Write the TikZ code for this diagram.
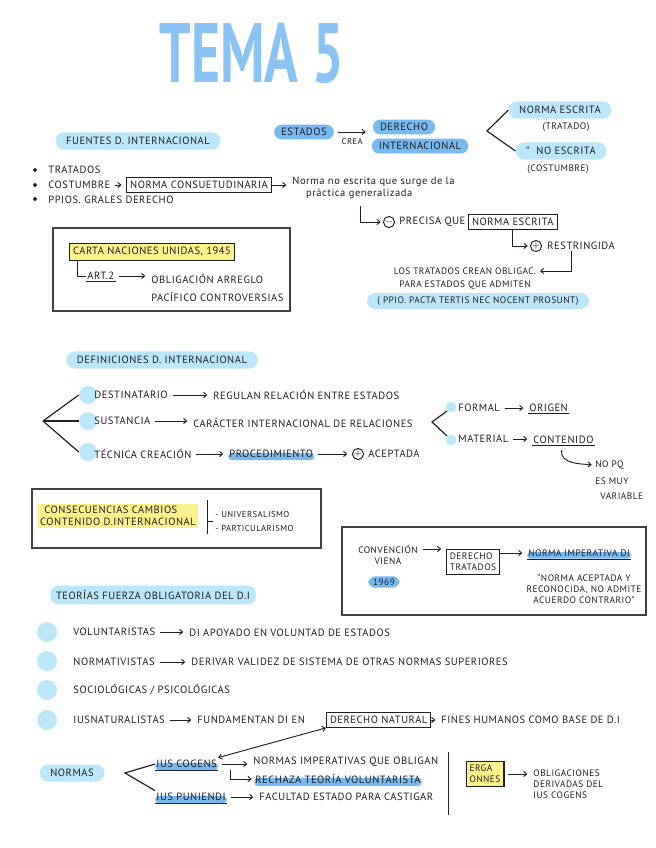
\documentclass[tikz,border=0pt]{standalone}
\usepackage{fontspec}
\usetikzlibrary{arrows.meta,positioning,fit,calc}
\newfontfamily\handfont[LetterSpace=5]{PT Sans}
\newfontfamily\titlehand{PT Sans}
\definecolor{cSky}{RGB}{186,232,250}
\definecolor{cMid}{RGB}{118,186,240}
\definecolor{cYel}{RGB}{252,242,140}
\definecolor{cTitle}{RGB}{138,196,245}
\definecolor{cInk}{RGB}{30,30,36}
\newcommand{\hbase}{\handfont\fontsize{9}{10.5}\selectfont}
\newcommand{\hsmall}{\handfont\fontsize{8}{9.5}\selectfont}
\newcommand{\htiny}{\handfont\fontsize{7.4}{8.6}\selectfont}
\tikzset{
  txt/.style={font=\hbase,text=cInk,inner sep=1pt},
  stxt/.style={txt,font=\hsmall},
  ttxt/.style={txt,font=\htiny},
  titlefont/.style={font=\titlehand\bfseries\fontsize{72}{72}\selectfont,
                    text=cTitle,xscale=0.66,transform shape,inner sep=0pt},
  skypill/.style={txt,fill=cSky,rounded corners=7pt,inner xsep=9pt,inner ysep=4pt},
  midpill/.style={txt,fill=cMid,rounded corners=6pt,inner xsep=6pt,inner ysep=3pt},
  boxed/.style={txt,draw=cInk,line width=0.9pt,inner xsep=3pt,inner ysep=3pt},
  yelbox/.style={boxed,fill=cYel},
  outline/.style={draw=cInk!85,line width=1pt,inner sep=0pt},
  inkline/.style={draw=cInk,line width=0.8pt},
  forkline/.style={draw=cInk,line width=1pt},
  uline/.style={append after command={(\tikzlastnode.south west)
                edge[inkline] (\tikzlastnode.south east)}},
  hlite/.style={inner ysep=2pt,path picture={\fill[cMid,rounded corners=3pt]
                ($(path picture bounding box.west)+(0,1pt)$) rectangle
                (path picture bounding box.south east);}},
  dotc/.style={circle,fill=cSky,inner sep=0pt,minimum size=#1},
  dotc/.default=5.4mm,
  bul/.style={circle,draw=cInk,fill=cInk,line width=0.6pt,inner sep=0pt,minimum size=2.6pt},
  circsym/.style={circle,draw=cInk,line width=0.8pt,inner sep=0pt,
                  minimum size=9.5pt,font=\small\bfseries,text=cInk},
  arr/.style={-{Straight Barb[length=2.6pt,width=4.5pt]},inkline,
              shorten <=3pt,shorten >=4pt},
  hookarr/.style={arr,shorten <=0pt,shorten >=2pt},
  darr/.style={{Straight Barb[length=2.6pt,width=4.5pt]}-{Straight Barb[length=2.6pt,width=4.5pt]},
               inkline}
}
\begin{document}
\begin{tikzpicture}[x=0.03cm,y=-0.03cm,node distance=2pt and 4pt]
  \useasboundingbox[fill=white] (0,0) rectangle (656,848);

  % Title
  \node[titlefont] (tema) at (252,53) {TEMA 5};

  % Fuentes
  \node[skypill] (fuentes) at (138,141) {FUENTES D. INTERNACIONAL};
  \node[bul] (b1) at (35,170) {};
  \node[bul] (b2) at (35,185) {};
  \node[bul] (b3) at (35,199) {};
  \node[txt,anchor=west] (trat) at (47,170) {TRATADOS};
  \node[txt,anchor=west] (cost) at (47,185) {COSTUMBRE};
  \node[txt,anchor=west] (ppios) at (47,200) {PPIOS. GRALES DERECHO};
  \node[boxed] (consu) at (199,185) {NORMA CONSUETUDINARIA};
  \node[txt,anchor=west,align=left] (practica) at (291,188)
      {Norma no escrita que surge de la\\\hspace*{1.3em}práctica generalizada};
  \draw[arr] (cost) -- (consu);
  \draw[arr,shorten <=0pt] (consu.east) -- (consu.east -| practica.west);

  % Precisa / restringida
  \coordinate (hk1) at (360,206);
  \node[circsym] (minus) at (389,222) {$-$};
  \node[txt,anchor=west] (precisa) at (398,222) {PRECISA QUE};
  \node[boxed,right=1pt of precisa] (nescrita) {NORMA ESCRITA};
  \draw[hookarr] (hk1) |- (minus);
  \node[circsym] (plus) at (536,246) {$+$};
  \node[txt,anchor=west] (restr) at (546,246) {RESTRINGIDA};
  \draw[hookarr] (nescrita.south) |- (plus);
  \node[stxt] (crean) at (465,271) {LOS TRATADOS CREAN OBLIGAC.};
  \node[stxt,below=3pt of crean] (admiten) {PARA ESTADOS QUE ADMITEN};
  \node[skypill,font=\hsmall,inner ysep=3pt] (pacta) at (478,301)
      {( PPIO. PACTA TERTIS NEC NOCENT PROSUNT)};
  \draw[hookarr] ($(restr.south)+(-10,0)$) |- (crean);

  % Estados crea derecho
  \node[midpill] (estados) at (304,132) {ESTADOS};
  \node[midpill] (dinter) at (420,146) {INTERNACIONAL};
  \node[midpill] (derecho) at (404,127) {DERECHO};
  \draw[arr] (estados.east) -- ([xshift=-2pt]estados.east -| derecho.west)
      node[midway,below=2pt,font=\htiny,text=cInk] {CREA};
  \coordinate (br1) at (487,131);
  \node[skypill] (nesc) at (560,110) {NORMA ESCRITA};
  \node[stxt] (tratado) at (566,127) {(TRATADO)};
  \node[skypill] (noesc) at (561,151) {”\ \ NO ESCRITA};
  \node[stxt] (costu) at (558,169) {(COSTUMBRE)};
  \draw[forkline] (nesc.west) -- (br1) -- (noesc.west);

  % Carta
  \node[yelbox] (carta) at (152,252) {CARTA NACIONES UNIDAS, 1945};
  \node[txt,uline,anchor=west] (art) at (86,276) {ART.2};
  \node[txt,anchor=west] (obl1) at (150,279) {OBLIGACIÓN ARREGLO};
  \node[txt,anchor=west] (obl2) at (150,297) {PACÍFICO CONTROVERSIAS};
  \draw[inkline] ($(carta.south west)+(8,0)$) |- (art);
  \draw[arr] (art.east) -- (art.east -| obl1.west);
  \node[outline,fit={(53,228) (290,311)}] (cartabox) {};

  % Definiciones
  \node[skypill] (defin) at (162,360) {DEFINICIONES D. INTERNACIONAL};
  \coordinate (br2) at (43,421);
  \node[dotc] (d1) at (88,395) {};
  \node[dotc] (d2) at (88,421) {};
  \node[dotc] (d3) at (88,452) {};
  \foreach \d in {d1,d2,d3}
    \draw[forkline] (br2) -- (\d.west);
  \node[txt,anchor=west] (dest) at (93,395) {DESTINATARIO};
  \node[txt,anchor=west] (destR) at (212,395) {REGULAN RELACIÓN ENTRE ESTADOS};
  \node[txt,anchor=west] (sust) at (93,421) {SUSTANCIA};
  \node[txt,anchor=west] (sustR) at (192,423) {CARÁCTER INTERNACIONAL DE RELACIONES};
  \node[txt,anchor=west] (tecn) at (93,454) {TÉCNICA CREACIÓN};
  \node[txt,hlite,anchor=west] (proc) at (228,454) {PROCEDIMIENTO};
  \node[circsym] (plus2) at (358,454) {$+$};
  \node[txt,anchor=west] (acep) at (367,454) {ACEPTADA};
  \draw[arr] (dest) -- (destR);
  \draw[arr] (sust) -- (sust -| sustR.west);
  \draw[arr] (tecn) -- (proc);
  \draw[arr] (proc) -- (plus2);

  % Formal / material
  \coordinate (br3) at (432,422);
  \node[dotc=3.2mm] (f1) at (451,407) {};
  \node[dotc=3.2mm] (f2) at (451,440) {};
  \draw[forkline] (f1.south west) -- (br3) -- (f2.north west);
  \node[txt,anchor=west] (formal) at (457,408) {FORMAL};
  \node[txt,uline,anchor=west] (origen) at (528,408) {ORIGEN};
  \node[txt,anchor=west] (material) at (457,439) {MATERIAL};
  \node[txt,uline,anchor=west] (conten) at (532,440) {CONTENIDO};
  \draw[arr] (formal) -- (origen);
  \draw[arr] (material) -- (material -| conten.west);
  \node[stxt,anchor=west] (nopq1) at (594,465) {NO PQ};
  \node[stxt,anchor=west] (nopq2) at (594,481) {ES MUY};
  \node[stxt,anchor=west] (nopq3) at (599,496) {VARIABLE};
  \draw[hookarr] ($(conten.south)+(-2,5)$) to[out=-95,in=175] (nopq1.west);

  % Consecuencias
  \node[txt,fill=cYel,align=left,inner sep=2pt] (consec) at (118,516)
      {\hspace*{0.4em}CONSECUENCIAS CAMBIOS\\CONTENIDO D.INTERNACIONAL};
  \coordinate (v1) at (207,500);
  \coordinate (v2) at (207,534);
  \coordinate (vt) at (207,521);
  \draw[inkline] (v1) -- (v2) (vt) -- ($(vt)+(6,0)$);
  \node[ttxt,anchor=west] (univ) at (214,514) {- UNIVERSALISMO};
  \node[ttxt,anchor=west] (partic) at (214,528) {- PARTICULARISMO};
  \node[outline,fit={(32,489) (321,548)}] (consbox) {};

  % Convencion Viena
  \node[stxt] (conv) at (388,549) {CONVENCIÓN};
  \node[stxt,below=2pt of conv] (viena) {VIENA};
  \node[midpill,font=\hsmall,inner xsep=4pt,inner ysep=2pt] (anio) at (384,582) {1969};
  \node[boxed,font=\hsmall,align=left] (dtrat) at (473,562) {DERECHO\\TRATADOS};
  \node[stxt,hlite,uline,anchor=west] (nimpdi) at (527,553) {NORMA IMPERATIVA DI};
  \node[stxt,align=center] (quote) at (584,589)
      {“NORMA ACEPTADA Y\\RECONOCIDA, NO ADMITE\\ACUERDO CONTRARIO”};
  \draw[arr] (conv.east) -- (conv.east -| dtrat.west);
  \draw[arr,shorten <=0pt] (dtrat.east |- nimpdi) -- (nimpdi.west);
  \node[outline,fit={(342,527) (646,615)}] (vienabox) {};

  % Teorias
  \node[skypill,inner xsep=5pt] (teorias) at (153,595) {TEORÍAS FUERZA OBLIGATORIA DEL D.I};
  \foreach \y [count=\i] in {632,661,690,720}
    \node[dotc=6mm] (t\i) at (47,\y) {};
  \node[txt,anchor=west] (volun) at (72,632) {VOLUNTARISTAS};
  \node[txt,anchor=west] (volunR) at (188,633) {DI APOYADO EN VOLUNTAD DE ESTADOS};
  \node[txt,anchor=west] (normat) at (72,662) {NORMATIVISTAS};
  \node[txt,anchor=west] (normatR) at (190,662)
      {DERIVAR VALIDEZ DE SISTEMA DE OTRAS NORMAS SUPERIORES};
  \node[txt,anchor=west] (socio) at (72,690) {SOCIOLÓGICAS / PSICOLÓGICAS};
  \node[txt,anchor=west] (iusnat) at (72,720) {IUSNATURALISTAS};
  \node[txt,anchor=west] (fundam) at (196,720) {FUNDAMENTAN DI EN};
  \node[boxed,anchor=west] (dnat) at (326,720) {DERECHO NATURAL};
  \node[txt,anchor=west] (fines) at (440,720) {FINES HUMANOS COMO BASE DE D.I};
  \draw[arr] (volun) -- (volun -| volunR.west);
  \draw[arr] (normat) -- (normatR);
  \draw[arr] (iusnat) -- (fundam);
  \draw[arr,shorten <=0pt] (dnat) -- (fines);

  % Normas
  \node[skypill] (normas) at (72,773) {NORMAS};
  \coordinate (br4) at (125,773);
  \node[txt,hlite,uline,anchor=west] (cogens) at (155,764) {IUS COGENS};
  \node[txt,anchor=west] (nimp) at (252,762) {NORMAS IMPERATIVAS QUE OBLIGAN};
  \node[txt,hlite,anchor=west] (rechaza) at (254,779) {RECHAZA TEORÍA VOLUNTARISTA};
  \node[txt,hlite,uline,anchor=west] (puni) at (155,797) {IUS PUNIENDI};
  \node[txt,anchor=west] (facul) at (258,797) {FACULTAD ESTADO PARA CASTIGAR};
  \draw[forkline] (cogens.west) -- (br4) -- (puni.north west);
  \draw[arr] (cogens) -- (cogens -| nimp.west);
  \draw[hookarr] ($(cogens.east)+(12,6)$) |- (rechaza);
  \draw[arr] (puni) -- (facul);
  \draw[darr] (cogens.north east) -- (dnat.south west);

  % Erga omnes
  \coordinate (sep1) at (448,752);
  \coordinate (sep2) at (448,815);
  \draw[inkline] (sep1) -- (sep2);
  \node[yelbox,align=left,font=\hsmall] (erga) at (485,774) {ERGA\\ONNES};
  \node[stxt,align=left,anchor=west] (oblig) at (532,784)
      {OBLIGACIONES\\DERIVADAS DEL\\IUS COGENS};
  \draw[arr] (erga.east) -- (erga.east -| oblig.west);

\end{tikzpicture}
\end{document}
